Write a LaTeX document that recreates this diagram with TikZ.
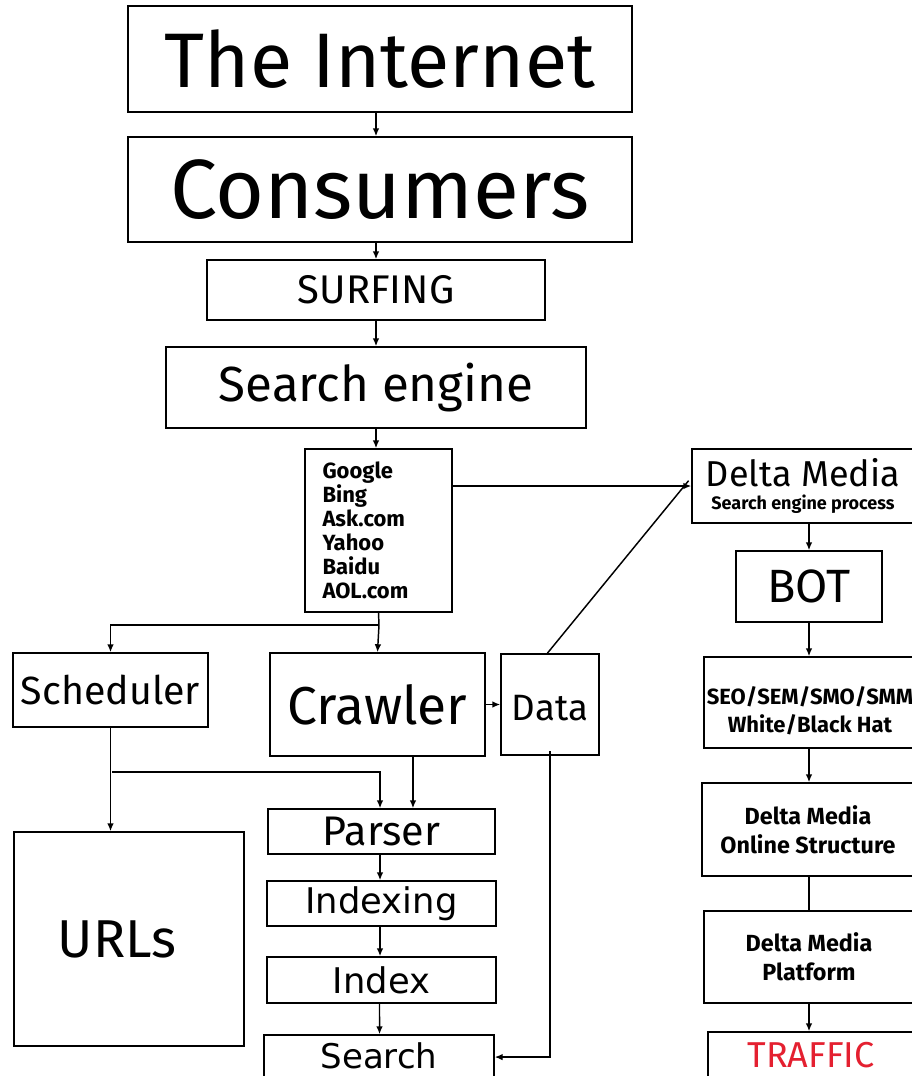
\documentclass[tikz,border=0pt]{standalone}
\usepackage{fontspec}
\setmainfont{Fira Sans}
\newfontfamily\verdfont{DejaVu Sans}
\usetikzlibrary{arrows.meta}
\definecolor{trafred}{RGB}{228,32,48}

\tikzset{every picture/.style={line width=1.1pt}}
\tikzset{
  box/.style={draw, inner sep=0pt, align=center},
  arr/.style={-{Latex[length=6pt,width=5pt]}},
  fsz/.style={font=\fontsize{#1}{#1}\selectfont},
  bsz/.style 2 args={font=\bfseries\fontsize{#1}{#2}\selectfont},
  vsz/.style={font=\verdfont\fontsize{#1}{#1}\selectfont}
}

\begin{document}
\begin{tikzpicture}[x=0.75pt,y=0.75pt,yscale=-1,xscale=1]
\useasboundingbox (0,0) rectangle (912,1076);

%Left column, top part
\node [box, minimum width=378pt, minimum height=79.5pt, fsz=58] (inet) at (380,59) {The Internet};
\node [box, minimum width=378pt, minimum height=78.75pt, fsz=63] (cons) at (380,189.5) {Consumers};
\node [box, minimum width=253.5pt, minimum height=45pt, fsz=30] (surf) at (376,290) {SURFING};
\node [box, minimum width=315pt, minimum height=60.75pt, fsz=37] (seng) at (376,387.5) {Search engine};
\node [box, minimum width=110.25pt, minimum height=122.25pt, text width=84pt, align=left, bsz={16.5}{18}] (engines) at (378.5,530.5) {Google\\Bing\\Ask.com\\Yahoo\\Baidu\\AOL.com};

%Middle row
\node [box, minimum width=146.25pt, minimum height=55.5pt, fsz=29.5] (sched) at (110.5,690) {Scheduler};
\node [box, minimum width=161.25pt, minimum height=77.25pt, fsz=40] (crawl) at (377.5,704.5) {Crawler};
\node [box, minimum width=73.5pt, minimum height=75.75pt, fsz=27.5] (data) at (550,704.5) {\rule{0pt}{24pt}Data};
\node [box, minimum width=172.5pt, minimum height=160.5pt, fsz=40] (urls) at (129,939) {URLs\hspace{18pt}};

%Index chain
\node [box, minimum width=170.25pt, minimum height=33.75pt, fsz=31] (pars) at (381.5,831.5) {Parser};
\node [box, minimum width=171.75pt, minimum height=33.75pt, vsz=26.5] (idxg) at (381.5,903.5) {Indexing};
\node [box, minimum width=171.75pt, minimum height=34.5pt, vsz=26.5] (idx) at (381.5,980) {Index};
\node [box, minimum width=172.5pt, minimum height=31.5pt, vsz=25.5] (srch) at (379,1056) {Search};

%Right column
\node [box, minimum width=166.5pt, minimum height=55.5pt] (delta) at (803,486) {{\fontsize{27}{27}\selectfont Delta Media}\\[5pt]{\bfseries\fontsize{13.5}{13.5}\selectfont Search engine process}};
\node [box, minimum width=109.5pt, minimum height=53.25pt, fsz=35] (bot) at (809,586.5) {BOT};
\node [box, minimum width=159pt, minimum height=68.25pt, bsz={16.5}{21}] (seo) at (810,702.5) {\rule{0pt}{26pt}SEO/SEM/SMO/SMM\\White/Black Hat};
\node [box, minimum width=159pt, minimum height=69.75pt, bsz={17.5}{22}] (onl) at (808,829.5) {Delta Media\\Online Structure};
\node [box, minimum width=157.5pt, minimum height=69pt, bsz={17.5}{22}] (plat) at (809,957) {Delta Media\\Platform};
\node [box, minimum width=154.5pt, minimum height=35.25pt, fsz=27, text=trafred] (traf) at (811,1055.5) {TRAFFIC};

%Branch points
\coordinate (split1) at (379,625);
\coordinate (split2) at (112,772);

%Connectors, left
\draw [arr] (inet.south -| surf.north) -- (cons.north -| surf.north);
\draw [arr] (cons.south -| surf.north) -- (surf.north);
\draw [arr] (surf) -- (seng);
\draw [arr] (seng.south) -- (seng.south |- engines.north);
\draw (engines.south) -- (split1);
\draw [arr] (split1) -- (crawl.north);
\draw [arr] (split1) -| (sched.north);
\draw [arr] (crawl.east) -- (data.west);
\draw [arr] (sched.south) -- (sched.south |- urls.north);
\draw [arr] (split2) -| ([xshift=-1.1pt]pars.north);
\draw [arr] ([xshift=26.6pt]crawl.south) -- ([xshift=26.6pt]crawl.south |- pars.north);
\draw [arr] ([xshift=-1.1pt]pars.south) -- ([xshift=-1.1pt]idxg.north);
\draw [arr] ([xshift=-1.1pt]idxg.south) -- ([xshift=-1.1pt]idx.north);
\draw [arr] ([xshift=-1.5pt]idx.south) -- ([xshift=0.4pt]srch.north);
\draw [arr] ([yshift=-3.5pt]data.south) |- ([yshift=0.8pt]srch.east);

%Connectors, right
\draw [arr] (engines.east |- delta.west) -- (delta.west);
\draw ([xshift=-2pt]data.north) -- ([xshift=-2pt,yshift=-4pt]delta.west);
\draw [arr] (bot.north |- delta.south) -- (bot.north);
\draw [arr] (bot.south) -- (bot.south |- seo.north);
\draw [arr] (bot.south |- seo.south) -- (bot.south |- onl.north);
\draw (bot.south |- onl.south) -- (bot.south |- plat.north);
\draw [arr] (bot.south |- plat.south) -- (bot.south |- traf.north);

\end{tikzpicture}
\end{document}
